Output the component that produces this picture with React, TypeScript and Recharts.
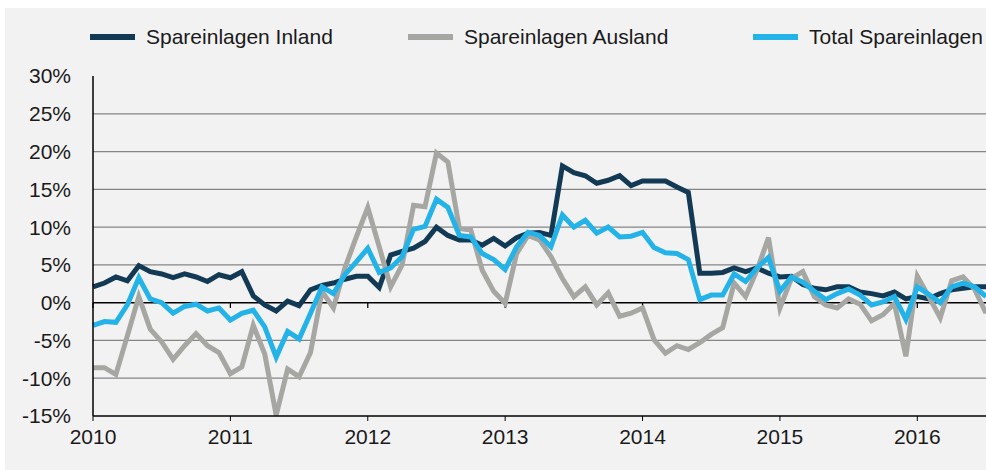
import React from "react";
import { LineChart, Line, XAxis, YAxis, ReferenceLine } from "recharts";

// monthly growth rates, Jan 2010 .. Jul 2016 (in %)
const YEARS = [2010, 2011, 2012, 2013, 2014, 2015, 2016];
const Y_TICKS = [-15, -10, -5, 0, 5, 10, 15, 20, 25, 30];
const GRID = [-10, -5, 5, 10, 15, 20, 25];

const INLAND = [
  2.1, 2.6, 3.4, 2.9, 4.9, 4.1, 3.8, 3.3, 3.8, 3.4, 2.8, 3.7,
  3.3, 4.1, 0.9, -0.3, -1.1, 0.2, -0.4, 1.7, 2.3, 2.6, 3.1, 3.5,
  3.5, 2.0, 6.3, 6.8, 7.2, 8.1, 10.0, 8.9, 8.3, 8.3, 7.6, 8.5,
  7.5, 8.6, 9.2, 9.3, 8.9, 18.1, 17.2, 16.8, 15.8, 16.2, 16.8, 15.5,
  16.1, 16.1, 16.1, 15.3, 14.6, 3.9, 3.9, 4.0, 4.6, 4.1, 4.6, 3.9,
  3.4, 3.5, 2.4, 1.9, 1.7, 2.1, 2.1, 1.4, 1.2, 0.9, 1.4, 0.5,
  0.8, 0.5, 1.2, 1.7, 1.9, 2.1, 2.1,
];

const AUSLAND = [
  -8.6, -8.6, -9.5, -4.4, 0.8, -3.5, -5.2, -7.5, -5.7, -4.1, -5.7, -6.6,
  -9.4, -8.5, -3.0, -6.8, -14.9, -8.8, -9.8, -6.6, 1.5, -0.7, 4.6, 8.7,
  12.6, 7.4, 2.1, 5.0, 12.9, 12.7, 19.8, 18.6, 9.8, 9.6, 4.3, 1.5,
  -0.1, 6.5, 8.9, 8.3, 6.1, 3.2, 0.8, 2.1, -0.3, 1.3, -1.8, -1.4,
  -0.7, -4.9, -6.7, -5.7, -6.2, -5.3, -4.2, -3.3, 2.6, 0.8, 4.3, 8.6,
  -0.7, 3.2, 4.1, 0.8, -0.3, -0.7, 0.5, -0.2, -2.4, -1.6, -0.1, -7.1,
  3.5, 0.8, -2.0, 2.9, 3.4, 1.8, -1.4,
];

const TOTAL = [
  -3.0, -2.5, -2.6, -0.3, 3.3, 0.5, 0.0, -1.4, -0.5, -0.2, -1.1, -0.7,
  -2.3, -1.4, -1.0, -3.2, -7.2, -3.8, -4.8, -1.4, 2.1, 1.2, 3.7, 5.4,
  7.2, 4.0, 4.6, 6.1, 9.7, 10.1, 13.7, 12.6, 8.9, 8.7, 6.5, 5.7,
  4.4, 7.4, 9.3, 8.9, 7.4, 11.6, 10.0, 10.9, 9.2, 10.0, 8.7, 8.8,
  9.3, 7.3, 6.6, 6.5, 5.7, 0.4, 1.0, 1.0, 3.8, 2.8, 4.6, 6.0,
  1.5, 3.4, 2.7, 1.5, 0.4, 1.2, 1.8, 1.0, -0.3, 0.1, 0.8, -2.2,
  2.1, 1.1, 0.0, 2.1, 2.6, 2.1, 0.8,
];

const SERIES = [
  { key: "inland", name: "Spareinlagen Inland", color: "#133a54" },
  { key: "ausland", name: "Spareinlagen Ausland", color: "#a6a6a2" },
  { key: "total", name: "Total Spareinlagen", color: "#24b3e8" },
];

const data = INLAND.map((v, i) => ({
  t: 2010 + i / 12,
  inland: v,
  ausland: AUSLAND[i],
  total: TOTAL[i],
}));

const FONT = "'Liberation Sans', Arial, Helvetica, sans-serif";
const LEGEND_LEFT = [85, 403, 748];

export default function App() {
  return (
    <div style={{ position: "relative", width: 986, height: 470, background: "#fff", overflow: "hidden", fontFamily: FONT }}>
      <style>{"body{margin:0}"}</style>
      <div style={{ position: "absolute", left: 5, top: 8, width: 981, height: 462, background: "#f2f2f2" }}>
        {SERIES.map((s, i) => (
          <div
            key={s.key}
            style={{
              position: "absolute",
              left: LEGEND_LEFT[i],
              top: 16,
              height: 26,
              display: "flex",
              alignItems: "center",
              whiteSpace: "nowrap",
              fontSize: 21,
              color: "#1a1a1a",
            }}
          >
            <span style={{ display: "inline-block", width: 45, height: 6, background: s.color, marginRight: 11 }} />
            {s.name}
          </div>
        ))}
        <LineChart width={981} height={462} data={data} margin={{ top: 68, right: 0, bottom: 0, left: 0 }}>
          {GRID.map((g) => (
            <ReferenceLine key={g} y={g} stroke="#858585" strokeWidth={1.25} />
          ))}
          <XAxis
            dataKey="t"
            type="number"
            domain={[2010, 2016.5]}
            ticks={YEARS}
            interval={0}
            height={54}
            tickSize={5}
            tickMargin={8}
            tickLine={{ stroke: "#000" }}
            axisLine={{ stroke: "#000", strokeWidth: 1.5 }}
            tick={{ fontSize: 21, fill: "#1a1a1a", fontFamily: FONT }}
            tickFormatter={(v) => String(v)}
          />
          <YAxis
            domain={[-15, 30]}
            ticks={Y_TICKS}
            interval={0}
            width={88}
            tickSize={0}
            tickMargin={22}
            tickLine={false}
            axisLine={{ stroke: "#000", strokeWidth: 1.5 }}
            tick={{ fontSize: 21, fill: "#1a1a1a", fontFamily: FONT }}
            tickFormatter={(v) => `${v}%`}
          />
          <ReferenceLine y={0} stroke="#000" strokeWidth={1.5} />
          {YEARS.map((yr) => (
            <ReferenceLine
              key={"z" + yr}
              segment={[{ x: yr, y: 0 }, { x: yr, y: -0.7 }]}
              stroke="#000"
              strokeWidth={1.25}
            />
          ))}
          {SERIES.map((s) => (
            <Line
              key={s.key}
              type="linear"
              dataKey={s.key}
              name={s.name}
              stroke={s.color}
              strokeWidth={5}
              dot={false}
              activeDot={false}
              isAnimationActive={false}
            />
          ))}
        </LineChart>
      </div>
    </div>
  );
}
